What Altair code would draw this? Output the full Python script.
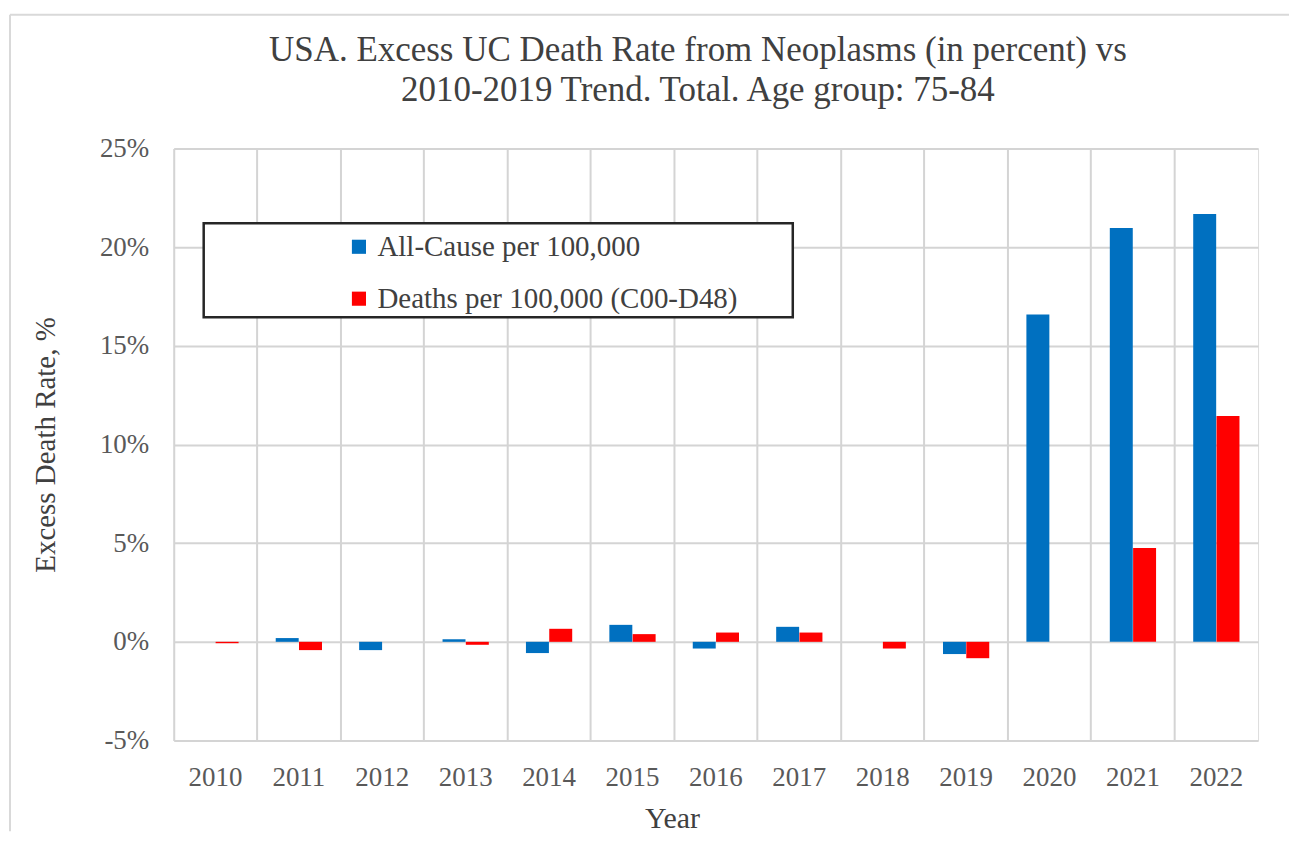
import altair as alt
import pandas as pd

years = [str(y) for y in range(2010, 2023)]
all_cause = [0.0, 0.19, -0.42, 0.13, -0.57, 0.86, -0.34, 0.76, 0.0, -0.62, 16.58, 20.97, 21.68]
neoplasms = [-0.07, -0.42, 0.0, -0.15, 0.66, 0.39, 0.47, 0.47, -0.34, -0.83, 0.0, 4.76, 11.44]
series_names = ["All-Cause per 100,000", "Deaths per 100,000 (C00-D48)"]
series_colors = ["#0070C0", "#FF0000"]
title_lines = ["USA. Excess UC Death Rate from Neoplasms (in percent) vs",
               "2010-2019 Trend. Total. Age group: 75-84"]
y_ticks = [-5, 0, 5, 10, 15, 20, 25]

rows = []
for i, yr in enumerate(years):
    rows.append({"Year": yr, "Series": series_names[0], "Value": all_cause[i]})
    rows.append({"Year": yr, "Series": series_names[1], "Value": neoplasms[i]})
df = pd.DataFrame(rows)

FONT = "Liberation Serif, Times New Roman, serif"
W, H = 1086, 593
GRID = "#D4D4D4"

bars = alt.Chart(df).mark_bar(size=23).encode(
    x=alt.X("Year:N", sort=years,
            scale=alt.Scale(paddingInner=0, paddingOuter=0),
            axis=alt.Axis(title="Year", labelAngle=0, ticks=False, domain=False,
                          grid=True, bandPosition=0, gridColor=GRID, gridWidth=2,
                          labelFontSize=27, labelColor="#595959", labelFont=FONT,
                          labelBaseline="middle", labelPadding=37,
                          titleFont=FONT, titleFontSize=30,
                          titleFontWeight="normal", titleColor="#404040",
                          titleX=499, titleY=78, titleBaseline="middle")),
    xOffset=alt.XOffset("Series:N", sort=series_names,
                        scale=alt.Scale(paddingOuter=0.79, paddingInner=0)),
    y=alt.Y("Value:Q", scale=alt.Scale(domain=[-5, 25], nice=False, zero=False),
            axis=alt.Axis(values=y_ticks, labelExpr="datum.value + '%'",
                          title="Excess Death Rate, %", ticks=False, domain=False,
                          gridColor=GRID, gridWidth=2,
                          labelFontSize=27, labelColor="#595959", labelFont=FONT,
                          labelPadding=25, titleFont=FONT, titleFontSize=29,
                          titleFontWeight="normal", titleColor="#404040",
                          titleX=-128, titleBaseline="middle")),
    color=alt.Color("Series:N", sort=series_names,
                    scale=alt.Scale(domain=series_names, range=series_colors),
                    legend=alt.Legend(title=None, orient="none", legendX=171, legendY=84,
                                      symbolType="square", symbolSize=200,
                                      symbolStrokeWidth=0, labelFont=FONT,
                                      labelFontSize=29, labelColor="#404040",
                                      rowPadding=22, labelOffset=4, labelLimit=700)),
)

one = pd.DataFrame({"a": [0]})

legend_box = alt.Chart(one).mark_rect(fill="white", stroke="#262626", strokeWidth=2.5).encode(
    x=alt.value(30), x2=alt.value(620), y=alt.value(75), y2=alt.value(169))

t1 = alt.Chart(one).mark_text(font=FONT, fontSize=35, color="#404040", align="center",
                              baseline="middle").encode(
    x=alt.value(525), y=alt.value(-99), text=alt.value(title_lines[0]))
t2 = alt.Chart(one).mark_text(font=FONT, fontSize=35, color="#404040", align="center",
                              baseline="middle").encode(
    x=alt.value(525), y=alt.value(-59), text=alt.value(title_lines[1]))

frame_top = alt.Chart(one).mark_rule(color="#D9D9D9", strokeWidth=2).encode(
    x=alt.value(-164), x2=alt.value(1117), y=alt.value(-134))
frame_left = alt.Chart(one).mark_rule(color="#D9D9D9", strokeWidth=2).encode(
    x=alt.value(-164), y=alt.value(-134), y2=alt.value(684))

chart = alt.layer(bars, legend_box, t1, t2, frame_top, frame_left).properties(
    width=W, height=H,
    padding={"left": 1, "top": 5, "right": 0, "bottom": 0},
).configure_view(stroke=GRID, strokeWidth=2).configure(background="white")

chart.save("out.html", embed_options={"renderer": "svg", "actions": False})
